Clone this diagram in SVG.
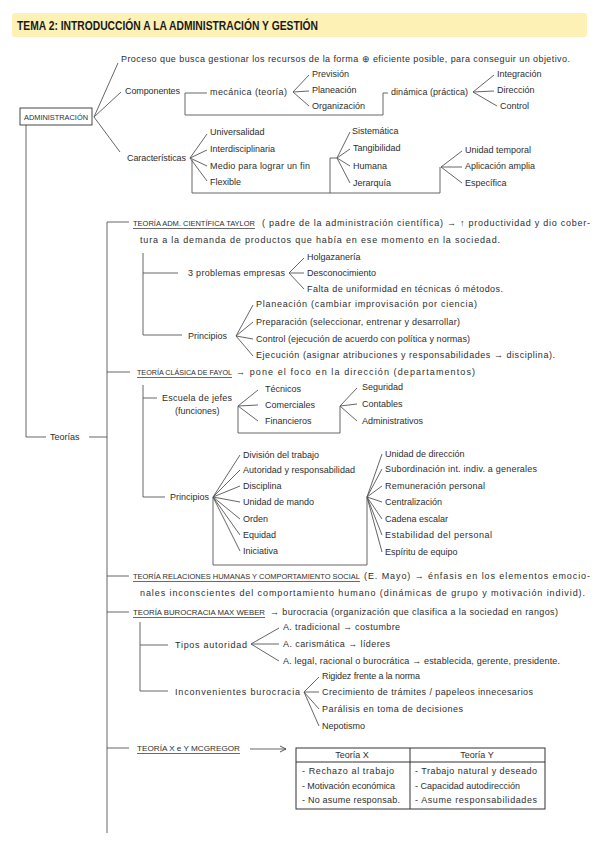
<svg xmlns="http://www.w3.org/2000/svg" width="599" height="848" viewBox="0 0 599 848">
<style>
text{font-family:"Liberation Sans",Arial,sans-serif;font-size:9px;fill:#2e2e2e}
.h{font-size:7px}
.ttl{font-size:12px;font-weight:bold;fill:#1a1a1a}
.c{fill:none;stroke:#555;stroke-width:0.9}
.ul{stroke:#444;stroke-width:0.8}
.tb{fill:none;stroke:#333;stroke-width:1}
</style>
<defs>
<marker id="ar" viewBox="0 0 8 8" refX="7" refY="4" markerWidth="8" markerHeight="8" orient="auto" markerUnits="userSpaceOnUse">
<path d="M1,1 L7,4 L1,7" fill="none" stroke="#444" stroke-width="0.9"/>
</marker>
</defs>
<rect width="599" height="848" fill="#fff"/>
<g id="title">
<rect x="12" y="13" width="575" height="24" rx="3" fill="#fdf1b6"/>
<text class="ttl" x="17" y="30" textLength="301" lengthAdjust="spacingAndGlyphs">TEMA 2: INTRODUCCIÓN A LA ADMINISTRACIÓN Y GESTIÓN</text>
</g>
<g id="connectors">
<path class="c" d="M94,117 L118,63 M94,117 L121,92 M94,117 L120,152"/>
<path class="c" d="M185,93 H207 M185,93 V115 H383 V93 H388"/>
<path class="c" d="M293,92 L309,75 M293,92 L309,91 M293,92 L309,106"/>
<path class="c" d="M473,92 L494,75 M473,92 L494,91 M473,92 L497,106"/>
<path class="c" d="M190,158 L207,134 M190,158 L207,150 M190,158 L207,166 M190,158 L207,181"/>
<path class="c" d="M192,160 V193 H440 V167 M330,193 V158 H337"/>
<path class="c" d="M337,158 L350,132 M337,158 L350,149 M337,158 L350,166 M337,158 L350,183"/>
<path class="c" d="M441,167 L462,151 M441,167 L462,167 M441,167 L462,183"/>
<path class="c" d="M26,125 V437 H46 M89,437 H107"/>
<path class="c" d="M107,222 V833 M107,222 H129 M107,372 H130 M107,576 H129 M107,612 H129 M107,748 H129"/>
<path class="c" d="M143,253 V335 H182 M143,273 H178"/>
<path class="c" d="M289,273 L304,258 M289,273 L304,273 M289,273 L304,289"/>
<path class="c" d="M236,336 L253,305 M236,336 L253,322 M236,336 L253,339 M236,336 L253,356"/>
<path class="c" d="M143,385 V497 H165 M143,398 H157"/>
<path class="c" d="M238,406 L258,390 M238,406 L258,405 M238,406 L258,421 M238,406 V433 H340 V406"/>
<path class="c" d="M340,406 L357,388 M340,406 L357,404 M340,406 L357,421"/>
<path class="c" d="M213,497 L240,455 M213,497 L240,470 M213,497 L240,486 M213,497 L240,502 M213,497 L240,519 M213,497 L240,535 M213,497 L240,551 M213,497 V565 H367 V497"/>
<path class="c" d="M367,497 L382,454 M367,497 L382,469 M367,497 L382,486 M367,497 L382,502 M367,497 L382,519 M367,497 L382,535 M367,497 L382,552"/>
<path class="c" d="M140,622 V691 H168 M140,645 H168"/>
<path class="c" d="M251,644 L279,628 M251,644 L279,644 M251,644 L279,661"/>
<path class="c" d="M304,692 L319,677 M304,692 L319,692 M304,692 L319,709 M304,692 L319,726"/>
<path class="c" d="M250,749 H286" marker-end="url(#ar)"/>
</g>
<g id="definicion">
<text x="121" y="62" textLength="449" lengthAdjust="spacing">Proceso que busca gestionar los recursos de la forma ⊕ eficiente posible, para conseguir un objetivo.</text>
</g>
<g id="administracion">
<rect x="20" y="108" width="72" height="17" fill="#fff" stroke="#333" stroke-width="0.9"/>
<text class="h" x="56" y="119.5" text-anchor="middle" textLength="64" lengthAdjust="spacingAndGlyphs">ADMINISTRACIÓN</text>
</g>
<g id="componentes">
<text x="125" y="94" textLength="55" lengthAdjust="spacing">Componentes</text>
</g>
<g id="mecanica">
<text x="210" y="95" textLength="77" lengthAdjust="spacing">mecánica (teoría)</text>
<text x="312" y="77">Previsión</text>
<text x="312" y="93">Planeación</text>
<text x="312" y="109">Organización</text>
</g>
<g id="dinamica">
<text x="391" y="95" textLength="77" lengthAdjust="spacing">dinámica (práctica)</text>
<text x="497" y="77">Integración</text>
<text x="497" y="93">Dirección</text>
<text x="500" y="109">Control</text>
</g>
<g id="caracteristicas">
<text x="127" y="161" textLength="59" lengthAdjust="spacing">Características</text>
<text x="210" y="135">Universalidad</text>
<text x="210" y="152">Interdisciplinaria</text>
<text x="210" y="169" textLength="100" lengthAdjust="spacing">Medio para lograr un fin</text>
<text x="210" y="185">Flexible</text>
<text x="352" y="134">Sistemática</text>
<text x="353" y="151">Tangibilidad</text>
<text x="353" y="169">Humana</text>
<text x="353" y="186">Jerarquía</text>
<text x="465" y="153">Unidad temporal</text>
<text x="465" y="169">Aplicación amplia</text>
<text x="465" y="186">Específica</text>
</g>
<g id="teorias">
<text x="50" y="440">Teorías</text>
</g>
<g id="taylor">
<text class="h" x="133" y="226" textLength="122" lengthAdjust="spacingAndGlyphs">TEORÍA ADM. CIENTÍFICA TAYLOR</text>
<line class="ul" x1="133" y1="228.5" x2="255" y2="228.5"/>
<text x="262" y="226" textLength="328" lengthAdjust="spacing">( padre de la administración científica) → ↑ productividad y dio cober-</text>
<text x="140" y="243" textLength="360" lengthAdjust="spacing">tura a la demanda de productos que había en ese momento en la sociedad.</text>
</g>
<g id="problemas">
<text x="188" y="276" textLength="97" lengthAdjust="spacing">3 problemas empresas</text>
<text x="307" y="260">Holgazanería</text>
<text x="307" y="276">Desconocimiento</text>
<text x="307" y="292" textLength="196" lengthAdjust="spacing">Falta de uniformidad en técnicas ó métodos.</text>
</g>
<g id="principios-taylor">
<text x="188" y="339">Principios</text>
<text x="256" y="307" textLength="221" lengthAdjust="spacing">Planeación (cambiar improvisación por ciencia)</text>
<text x="256" y="325" textLength="204" lengthAdjust="spacing">Preparación (seleccionar, entrenar y desarrollar)</text>
<text x="256" y="342" textLength="214" lengthAdjust="spacing">Control (ejecución de acuerdo con política y normas)</text>
<text x="256" y="358" textLength="299" lengthAdjust="spacing">Ejecución (asignar atribuciones y responsabilidades → disciplina).</text>
</g>
<g id="fayol">
<text class="h" x="137" y="375" textLength="95" lengthAdjust="spacingAndGlyphs">TEORÍA CLÁSICA DE FAYOL</text>
<line class="ul" x1="137" y1="377.5" x2="232" y2="377.5"/>
<text x="236" y="375" textLength="239" lengthAdjust="spacing">→ pone el foco en la dirección (departamentos)</text>
</g>
<g id="escuela-jefes">
<text x="162" y="401" textLength="70" lengthAdjust="spacing">Escuela de jefes</text>
<text x="175" y="414">(funciones)</text>
<text x="265" y="392">Técnicos</text>
<text x="265" y="408">Comerciales</text>
<text x="265" y="424">Financieros</text>
<text x="362" y="390">Seguridad</text>
<text x="362" y="407">Contables</text>
<text x="362" y="424">Administrativos</text>
</g>
<g id="principios-fayol">
<text x="170" y="500">Principios</text>
<text x="243" y="458">División del trabajo</text>
<text x="243" y="473" textLength="112" lengthAdjust="spacing">Autoridad y responsabilidad</text>
<text x="243" y="489">Disciplina</text>
<text x="243" y="505">Unidad de mando</text>
<text x="243" y="522">Orden</text>
<text x="243" y="538">Equidad</text>
<text x="243" y="554">Iniciativa</text>
<text x="385" y="457">Unidad de dirección</text>
<text x="385" y="472" textLength="152" lengthAdjust="spacing">Subordinación int. indiv. a generales</text>
<text x="385" y="489" textLength="100" lengthAdjust="spacing">Remuneración personal</text>
<text x="385" y="505">Centralización</text>
<text x="385" y="522">Cadena escalar</text>
<text x="385" y="538" textLength="107" lengthAdjust="spacing">Estabilidad del personal</text>
<text x="385" y="555">Espíritu de equipo</text>
</g>
<g id="relaciones">
<text class="h" x="133" y="579" textLength="227" lengthAdjust="spacingAndGlyphs">TEORÍA RELACIONES HUMANAS Y COMPORTAMIENTO SOCIAL</text>
<line class="ul" x1="133" y1="581.5" x2="360" y2="581.5"/>
<text x="364" y="579" textLength="226" lengthAdjust="spacing">(E. Mayo) → énfasis en los elementos emocio-</text>
<text x="140" y="596" textLength="445" lengthAdjust="spacing">nales inconscientes del comportamiento humano (dinámicas de grupo y motivación individ).</text>
</g>
<g id="weber">
<text class="h" x="133" y="615" textLength="132" lengthAdjust="spacingAndGlyphs">TEORÍA BUROCRACIA MAX WEBER</text>
<line class="ul" x1="133" y1="617.5" x2="265" y2="617.5"/>
<text x="270" y="615" textLength="288" lengthAdjust="spacing">→ burocracia (organización que clasifica a la sociedad en rangos)</text>
</g>
<g id="tipos-autoridad">
<text x="175" y="648" textLength="72" lengthAdjust="spacing">Tipos autoridad</text>
<text x="283" y="630" textLength="117" lengthAdjust="spacing">A. tradicional → costumbre</text>
<text x="283" y="647" textLength="107" lengthAdjust="spacing">A. carismática → líderes</text>
<text x="283" y="664" textLength="277" lengthAdjust="spacing">A. legal, racional o burocrática → establecida, gerente, presidente.</text>
</g>
<g id="inconvenientes">
<text x="175" y="695" textLength="125" lengthAdjust="spacing">Inconvenientes burocracia</text>
<text x="322" y="679" textLength="98" lengthAdjust="spacing">Rigidez frente a la norma</text>
<text x="322" y="695" textLength="211" lengthAdjust="spacing">Crecimiento de trámites / papeleos innecesarios</text>
<text x="322" y="712" textLength="141" lengthAdjust="spacing">Parálisis en toma de decisiones</text>
<text x="322" y="729">Nepotismo</text>
</g>
<g id="mcgregor">
<text class="h" x="137" y="751" textLength="103" lengthAdjust="spacingAndGlyphs">TEORÍA X e Y MCGREGOR</text>
<line class="ul" x1="137" y1="753.5" x2="240" y2="753.5"/>
</g>
<g id="tabla-xy">
<rect class="tb" x="296" y="748" width="249" height="61"/>
<line class="tb" x1="296" y1="762" x2="545" y2="762"/>
<line class="tb" x1="410" y1="748" x2="410" y2="809"/>
<text x="352" y="758" text-anchor="middle" font-size="8">Teoría X</text>
<text x="477" y="758" text-anchor="middle" font-size="8">Teoría Y</text>
<text x="302" y="774" textLength="92" lengthAdjust="spacing">- Rechazo al trabajo</text>
<text x="302" y="789" textLength="93" lengthAdjust="spacing">- Motivación económica</text>
<text x="302" y="803" textLength="98" lengthAdjust="spacing">- No asume responsab.</text>
<text x="415" y="774" textLength="122" lengthAdjust="spacing">- Trabajo natural y deseado</text>
<text x="415" y="789" textLength="105" lengthAdjust="spacing">- Capacidad autodirección</text>
<text x="415" y="803" textLength="122" lengthAdjust="spacing">- Asume responsabilidades</text>
</g>
</svg>
